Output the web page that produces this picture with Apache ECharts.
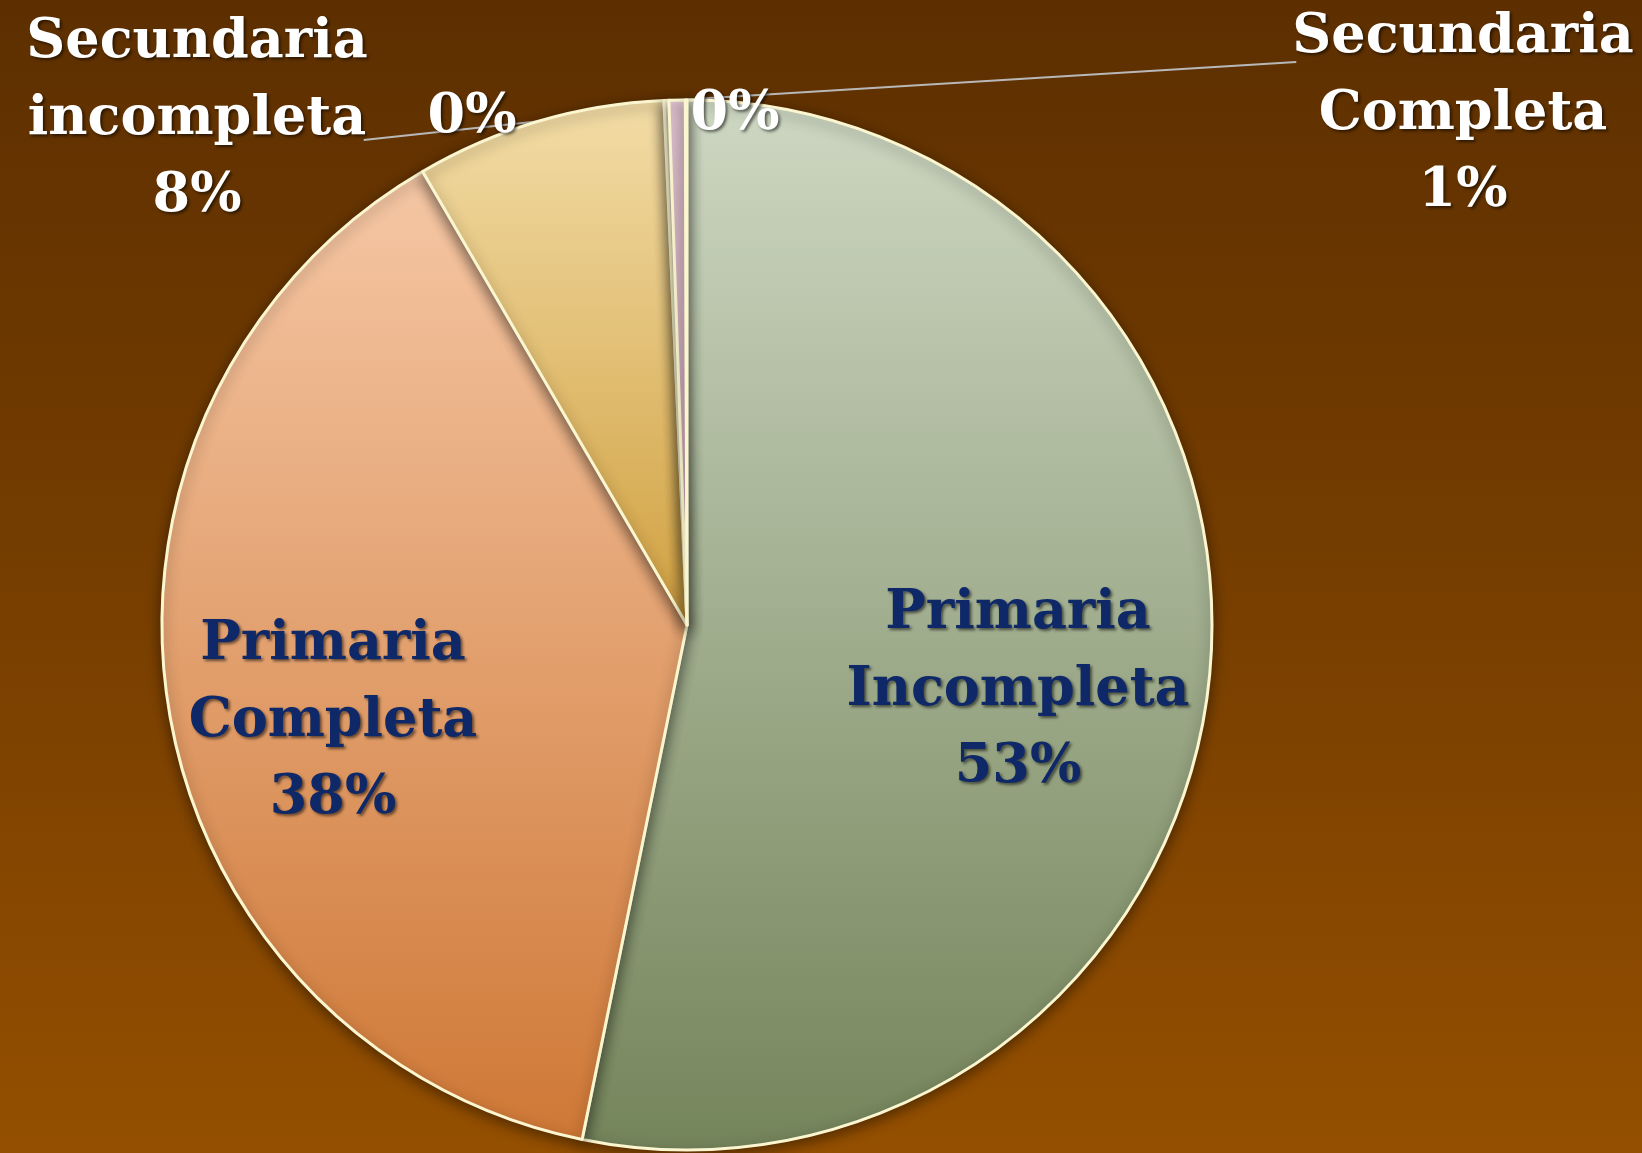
<!DOCTYPE html>
<html>
<head>
<meta charset="utf-8">
<script src="https://cdn.jsdelivr.net/npm/echarts@6/dist/echarts.min.js"></script>
<style>
  html, body { margin: 0; padding: 0; width: 100%; height: 100%; }
  #chart { width: 1642px; height: 1153px; }
</style>
</head>
<body>
<div id="chart"></div>
<script>
// slices, clockwise from 12 o'clock
const categories = ['Primaria Incompleta', 'Primaria Completa', 'Secundaria incompleta', '', 'Secundaria Completa', ''];
const values = [53.2, 38.4, 7.7, 0.15, 0.5, 0.05];

// top / bottom colour of each slice
const sliceTop = ['#cdd7c2', '#f5c7a5', '#f2dca6', '#fffbe8', '#edcfdc', '#f4f1ea'];
const sliceBottom = ['#74845a', '#cf7836', '#d0a040', '#fff3c8', '#dcaec4', '#e4e0d8'];

// where each label sits (centre of the text block)
const labelSpots = [[1018, 691], [333, 722], [197, 120], [472, 118], [1463, 115], [735, 115]];
const insideIdx = [0, 1];
const lineIdx = [2, 4];
// leader line end: which side of the label and how far below its middle
const lineEnds = { 2: { side: 1, dy: 20 }, 4: { side: -1, dy: -53 } };

const chart = echarts.init(document.getElementById('chart'));

const textShadow = {
  textShadowColor: 'rgba(0,0,0,0.55)',
  textShadowBlur: 3,
  textShadowOffsetX: 2,
  textShadowOffsetY: 2
};

const data = values.map((v, i) => {
  const inside = insideIdx.includes(i);
  return {
    name: categories[i],
    value: v,
    itemStyle: {
      color: new echarts.graphic.LinearGradient(0, 0, 0, 1, [
        { offset: 0, color: sliceTop[i] },
        { offset: 1, color: sliceBottom[i] }
      ])
    },
    label: Object.assign({
      show: true,
      position: inside ? 'inside' : 'outside',
      color: inside ? '#0e2868' : '#ffffff',
      fontFamily: 'DejaVu Serif',
      fontWeight: 'bold',
      fontSize: 54,
      lineHeight: 77,
      align: 'center'
    }, textShadow),
    labelLine: {
      show: lineIdx.includes(i),
      lineStyle: { color: '#b8b8b8', width: 2 }
    }
  };
});

chart.setOption({
  backgroundColor: new echarts.graphic.LinearGradient(0, 0, 0, 1, [
    { offset: 0, color: '#5d2f00' },
    { offset: 0.45, color: '#733c00' },
    { offset: 1, color: '#944f00' }
  ]),
  animation: false,
  series: [
    {
      type: 'pie',
      center: [687, 625],
      radius: 525,
      startAngle: 90,
      clockwise: true,
      avoidLabelOverlap: false,
      emphasis: { disabled: true },
      itemStyle: {
        borderColor: '#fbf6cf',
        borderWidth: 3,
        shadowBlur: 14,
        shadowColor: 'rgba(0,0,0,0.45)',
        shadowOffsetY: 4
      },
      label: {
        formatter: (p) => {
          const pct = Math.round(p.percent) + '%';
          return p.name ? p.name.split(' ').join('\n') + '\n' + pct : pct;
        }
      },
      labelLayout: (p) => {
        const spot = labelSpots[p.dataIndex];
        const out = { x: spot[0], y: spot[1], align: 'center', verticalAlign: 'middle' };
        const end = lineEnds[p.dataIndex];
        if (end && p.labelLinePoints && p.labelLinePoints.length) {
          const anchor = p.labelLinePoints[0];
          out.labelLinePoints = [
            anchor,
            [spot[0] + end.side * (p.labelRect.width / 2 - 4), spot[1] + end.dy]
          ];
        }
        return out;
      },
      data: data
    }
  ]
});
</script>
</body>
</html>
